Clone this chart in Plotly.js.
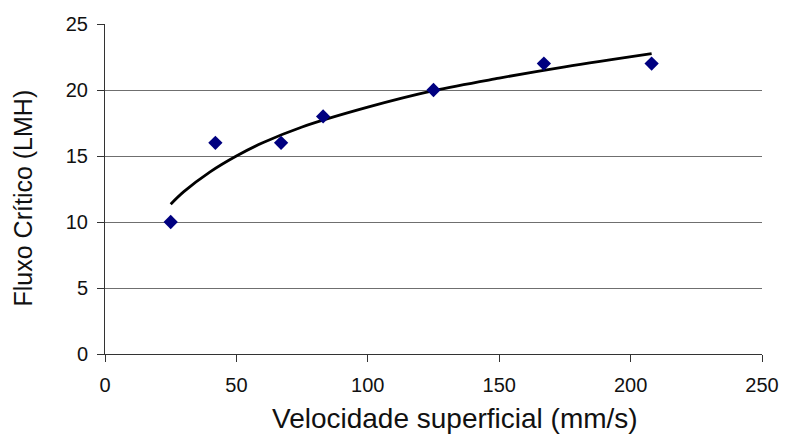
<!DOCTYPE html>
<html><head><meta charset="utf-8">
<script src="https://cdn.plot.ly/plotly-3.0.1.min.js"></script>
<style>body{margin:0;background:#fff}#c{width:786px;height:443px}</style>
</head><body><div id="c"></div>
<script>
var velocidade = [25, 42, 67, 83, 125, 167, 208];
var fluxo = [10, 16, 16, 18, 20, 22, 22];
var trendX = [25, 30, 40, 50, 60, 75, 100, 125, 150, 175, 208];
var trendY = [11.35, 12.3, 13.8, 15.0, 16.0, 17.2, 18.7, 19.95, 20.9, 21.75, 22.75];
var xTicks = [0, 50, 100, 150, 200, 250];
var yTicks = [0, 5, 10, 15, 20, 25];

var traces = [
  {x: trendX, y: trendY, mode: 'lines', line: {color: '#000', width: 2.8, shape: 'spline'}, hoverinfo: 'skip'},
  {x: velocidade, y: fluxo, mode: 'markers', marker: {symbol: 'diamond', size: 11, color: '#000080'}}
];
var layout = {
  width: 786, height: 443,
  margin: {l: 105, r: 24, t: 24, b: 89},
  showlegend: false,
  paper_bgcolor: '#fff', plot_bgcolor: '#fff',
  font: {family: 'Liberation Sans, Arial, sans-serif', color: '#111'},
  xaxis: {
    range: [0, 250], tickvals: xTicks, ticktext: xTicks.map(String),
    showgrid: false, zeroline: false, showline: true, linecolor: '#333', linewidth: 1,
    ticks: 'outside', ticklen: 7, tickcolor: '#333', ticklabelstandoff: 6,
    tickfont: {size: 20}, fixedrange: true
  },
  yaxis: {
    range: [0, 25], tickvals: yTicks, ticktext: yTicks.map(String),
    showgrid: true, gridcolor: '#6f6f6f', gridwidth: 1, zeroline: false,
    showline: true, linecolor: '#333', linewidth: 1,
    ticks: 'outside', ticklen: 7, tickcolor: '#333', ticklabelstandoff: 5,
    tickfont: {size: 20}, fixedrange: true
  },
  annotations: [
    {text: 'Velocidade superficial (mm/s)', xref: 'paper', yref: 'paper', x: 0.533, y: -0.196,
     xanchor: 'center', yanchor: 'middle', showarrow: false, font: {size: 28, color: '#111'}},
    {text: 'Fluxo Crítico (LMH)', xref: 'paper', yref: 'paper', x: -0.125, y: 0.474,
     xanchor: 'center', yanchor: 'middle', textangle: -90, showarrow: false, font: {size: 25, color: '#111'}}
  ]
};
Plotly.newPlot('c', traces, layout, {staticPlot: true});
</script></body></html>
